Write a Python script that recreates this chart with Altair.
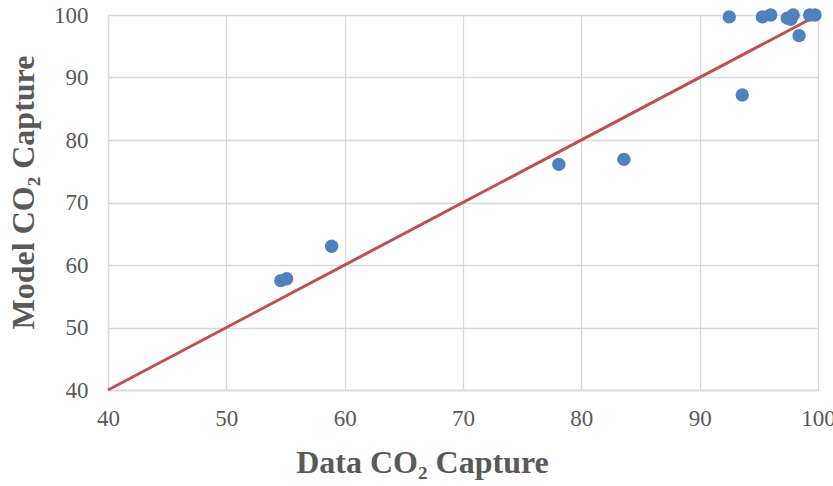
import altair as alt
import pandas as pd

data_capture = [54.6, 55.1, 58.9, 78.1, 83.6, 92.5, 93.6, 95.3, 96.0, 97.4, 97.7, 97.9, 98.4, 99.3, 99.75]
model_capture = [57.5, 57.8, 63.0, 76.1, 76.9, 99.7, 87.2, 99.7, 100.0, 99.5, 99.3, 100.0, 96.7, 100.0, 100.0]
line_x = [40, 100]
line_y = [40, 100]

pts = pd.DataFrame({"x": data_capture, "y": model_capture})
ln = pd.DataFrame({"x": line_x, "y": line_y})

xs = alt.Scale(domain=[40, 100], nice=False, zero=False)
ys = alt.Scale(domain=[40, 100], nice=False, zero=False)

xaxis = alt.Axis(title="Data CO₂ Capture", values=[40, 50, 60, 70, 80, 90, 100],
                 grid=True, gridColor="#D9D9D9", gridWidth=1.3, domain=True, domainColor="#D9D9D9",
                 domainWidth=1.3, ticks=False, labelFont="Liberation Serif", labelFontSize=23,
                 labelColor="#595959", labelPadding=17, labelFlush=False, labelOverlap=False,
                 titleFont="Liberation Serif",
                 titleFontSize=32, titleFontWeight="bold", titleColor="#595959", titlePadding=17,
                 titleX=314, titleAlign="center")
yaxis = alt.Axis(title="Model CO₂ Capture", values=[40, 50, 60, 70, 80, 90, 100],
                 grid=True, gridColor="#D9D9D9", gridWidth=1.3, domain=True, domainColor="#D9D9D9",
                 domainWidth=1.3, ticks=False, labelFont="Liberation Serif", labelFontSize=23,
                 labelColor="#595959", labelPadding=20, labelFlush=False, labelOverlap=False,
                 titleFont="Liberation Serif",
                 titleFontSize=32, titleFontWeight="bold", titleColor="#595959", titlePadding=13,
                 titleY=177, titleAlign="center")

points = alt.Chart(pts).mark_circle(size=180, opacity=1, color="#4F81BD").encode(
    x=alt.X("x:Q", scale=xs, axis=xaxis),
    y=alt.Y("y:Q", scale=ys, axis=yaxis),
)
line = alt.Chart(ln).mark_line(color="#C0504D", strokeWidth=3).encode(
    x=alt.X("x:Q", scale=xs),
    y=alt.Y("y:Q", scale=ys),
)

chart = alt.layer(line, points).properties(
    width=710, height=375,
    autosize=alt.AutoSizeParams(type="none"),
    padding={"left": 108, "top": 15, "right": 15, "bottom": 96},
    background="white",
).configure_view(stroke=None)

chart.save("out.html", embed_options={"renderer": "svg", "actions": False})
